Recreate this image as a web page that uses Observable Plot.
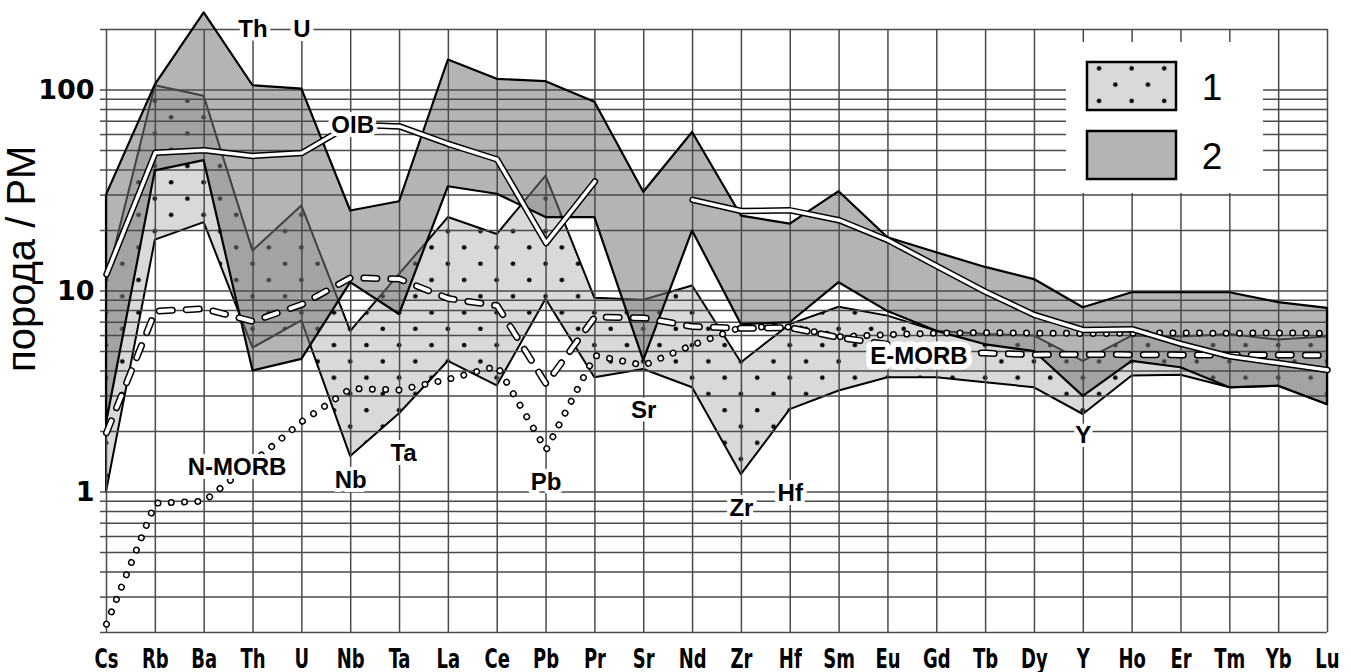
<!DOCTYPE html>
<html><head><meta charset="utf-8">
<script src="https://cdn.jsdelivr.net/npm/d3@7"></script>
<script src="https://cdn.jsdelivr.net/npm/@observablehq/plot@0.6"></script>
<style>html,body{margin:0;padding:0;background:#fff;} #chart svg{display:block}</style>
</head><body><div id="chart"></div>
<script>
// ---- data ----
const elements = ["Cs","Rb","Ba","Th","U","Nb","Ta","La","Ce","Pb","Pr","Sr","Nd","Zr","Hf","Sm","Eu","Gd","Tb","Dy","Y","Ho","Er","Tm","Yb","Lu"];
// field 1 (light, dotted)
const field1Low  = [1.0, 17.9, 21.9, 5.2, 7.1, 1.5, 2.45, 4.47, 3.37, 9.1, 3.7, 4.07, 3.3, 1.22, 2.57, 3.18, 3.7, 3.7, 3.5, 3.3, 2.43, 3.78, 3.81, 3.3, 3.36, 2.72];
const field1High = [11, 105, 93, 15.8, 26.5, 6.3, 12.1, 23.2, 19.1, 37.3, 9.2, 9.0, 10.6, 4.4, 6.8, 8.3, 7.5, 6.3, 6.07, 5.97, 4.47, 5.97, 5.9, 6.07, 5.7, 5.9];
// field 2 (grey)
const field2Low  = [2.2, 39.6, 44.5, 4.0, 4.57, 11.0, 7.64, 33, 30.3, 23.2, 23.2, 4.5, 19.9, 6.8, 6.95, 11.0, 7.9, 6.3, 5.4, 5.0, 2.99, 4.47, 4.15, 3.3, 3.36, 2.72];
const field2High = [30, 106, 242, 105, 101, 25, 27.8, 141, 113, 110, 87, 31, 61.5, 23.6, 21.5, 31.2, 18.4, 15.5, 13.1, 11.4, 8.25, 9.8, 9.8, 9.8, 8.76, 8.2];
// reference compositions
const oib   = [12.1, 48.8, 50.1, 47.0, 48.6, 67.3, 65.9, 53.9, 45.1, 17.3, 35.1, null, 28.4, 25.0, 25.2, 22.5, 17.9, 13.3, 9.9, 7.6, 6.4, 6.46, 5.46, 4.73, 4.38, 4.05];
const eMorb = [1.97, 7.94, 8.16, 7.06, 8.57, 11.64, 11.46, 9.17, 8.45, 3.45, 7.43, 7.35, 6.65, 6.52, 6.57, 5.86, 5.42, 4.98, 4.91, 4.82, 4.84, 4.82, 4.81, 4.81, 4.81, 4.78];
const nMorb = [0.22, 0.88, 0.90, 1.41, 2.24, 3.27, 3.22, 3.64, 4.23, 1.62, 4.78, 4.27, 5.39, 6.61, 6.63, 5.92, 6.07, 6.17, 6.2, 6.17, 6.15, 6.16, 6.19, 6.16, 6.19, 6.15];
// y ticks / grid
const yGrid = [0.2,0.3,0.4,0.5,0.6,0.7,0.8,0.9,1,2,3,4,5,6,7,8,9,10,20,30,40,50,60,70,80,90,100,200];
const yTickLabels = [1, 10, 100];
// annotations
const labelText  = ["Th","U","OIB","N-MORB","Nb","Ta","Pb","Sr","Zr","Hf","E-MORB","Y"];
const labelAt    = ["Th","U","Nb","Th","Nb","Ta","Pb","Sr","Zr","Hf","Eu","Y"];
const labelValue = [200, 200, 66.4, 1.33, 1.14, 1.56, 1.12, 2.55, 0.83, 0.99, 4.74, 1.92];
const legendText = ["1", "2"];
const yTitle = "порода / PM";

const rows = elements.map((el, i) => ({
  el, f1lo: field1Low[i], f1hi: field1High[i], f2lo: field2Low[i], f2hi: field2High[i],
  oib: oib[i], emorb: eMorb[i], nmorb: nMorb[i]
}));
const labels = labelText.map((t, i) => ({t, el: labelAt[i], v: labelValue[i]}));
const nudge = {"N-MORB": -16, "Ta": 4, "E-MORB": 31, "OIB": 2};

const GRID = "#4a4a4a";
const refLine = (key, outer, inner, dash) => [
  Plot.line(rows, {x: "el", y: key, stroke: "#000", strokeWidth: outer, strokeDasharray: dash, strokeLinecap: "round", strokeLinejoin: "round"}),
  Plot.line(rows, {x: "el", y: key, stroke: "#fff", strokeWidth: inner, strokeDasharray: dash, strokeLinecap: "round", strokeLinejoin: "round"})
];
const labelStyle = {fontFamily: "Liberation Sans, Arial, sans-serif", fontWeight: "bold", fontSize: 24, fill: "#000", stroke: "#fff", strokeLinejoin: "round"};

const chart = Plot.plot({
  width: 1351, height: 672,
  marginTop: 29, marginBottom: 40, marginLeft: 106, marginRight: 24,
  style: {background: "white", overflow: "visible"},
  x: {type: "point", domain: elements, padding: 0, round: false, axis: null},
  y: {type: "log", domain: [0.2, 200], axis: null},
  marks: [
    Plot.areaY(rows, {x: "el", y1: "f1lo", y2: "f1hi", fill: "url(#dots)", stroke: "#000", strokeWidth: 2}),
    Plot.areaY(rows, {x: "el", y1: "f2lo", y2: "f2hi", fill: "#777", fillOpacity: 0.55}),
    Plot.ruleY(yGrid, {stroke: GRID, strokeWidth: 1.5}),
    Plot.ruleX(elements, {stroke: GRID, strokeWidth: 1.5}),
    Plot.areaY(rows, {x: "el", y1: "f2lo", y2: "f2hi", fill: "none", stroke: "#000", strokeWidth: 2.2}),
    Plot.axisY({ticks: yGrid, tickSize: 6, tickPadding: 6, stroke: GRID, strokeWidth: 1.5,
      tickFormat: d => yTickLabels.includes(d) ? String(d) : "", label: null,
      fontFamily: "DejaVu Sans", fontWeight: "bold", fontSize: 27, fill: "#000"}),
    Plot.axisX({tickSize: 0, tickPadding: 16, label: null,
      fontFamily: "Liberation Sans Narrow, DejaVu Sans Condensed, sans-serif", fontWeight: "bold", fontSize: 27, fill: "#000"}),
    ...refLine("nmorb", 7, 4, "0.01,13.3"),
    ...refLine("emorb", 7, 4, "13,14"),
    ...refLine("oib", 6.5, 3.5, null),
    ...labels.map(d => Plot.text([d], {x: "el", y: "v", text: "t", dx: nudge[d.t] || 0,
      strokeWidth: d.t === "E-MORB" ? 11 : 8, ...labelStyle})),
    Plot.text([yTitle], {frameAnchor: "left", rotate: -90, dx: -84, dy: 41, fontSize: 40,
      fontFamily: "Liberation Sans, Arial, sans-serif", fill: "#000"})
  ]
});
document.getElementById("chart").appendChild(chart);

// condense x tick labels
d3.select(chart).selectAll('g[aria-label="x-axis tick label"] text').each(function () {
  const w = this.getComputedTextLength();
  this.setAttribute("textLength", (w * 0.74).toFixed(1));
  this.setAttribute("lengthAdjust", "spacingAndGlyphs");
});

// dot pattern aligned with the element grid
const xs = chart.scale("x");
const step = (xs.apply("Rb") - xs.apply("Cs")) / 3;
const svg = d3.select(chart);
const defs = svg.insert("defs", ":first-child");
const pat = defs.append("pattern").attr("id", "dots").attr("patternUnits", "userSpaceOnUse")
  .attr("x", xs.apply("Cs") - step / 2).attr("y", 11.36).attr("width", 2 * step).attr("height", 2 * step);
pat.append("rect").attr("width", 2 * step).attr("height", 2 * step).attr("fill", "#d9d9d9");
pat.append("circle").attr("cx", step / 2).attr("cy", step / 2).attr("r", 2.3).attr("fill", "#000");
pat.append("circle").attr("cx", step * 1.5).attr("cy", step * 1.5).attr("r", 2.3).attr("fill", "#000");

// legend (inside the frame, upper right)
const lg = svg.append("g");
lg.append("rect").attr("x", 1066).attr("y", 42).attr("width", 197).attr("height", 151).attr("fill", "#fff");
lg.append("rect").attr("x", 1087).attr("y", 62).attr("width", 89).attr("height", 48)
  .attr("fill", "url(#dots)").attr("stroke", "#000").attr("stroke-width", 2.5);
lg.append("rect").attr("x", 1087).attr("y", 131).attr("width", 89).attr("height", 48)
  .attr("fill", "#b4b4b4").attr("stroke", "#000").attr("stroke-width", 2.5);
legendText.forEach((t, i) => {
  lg.append("text").text(t).attr("x", 1212).attr("y", 87 + i * 69)
    .attr("text-anchor", "middle").attr("dominant-baseline", "central")
    .attr("font-family", "Liberation Sans, Arial, sans-serif").attr("font-size", 37).attr("fill", "#000");
});
</script>
</body></html>
